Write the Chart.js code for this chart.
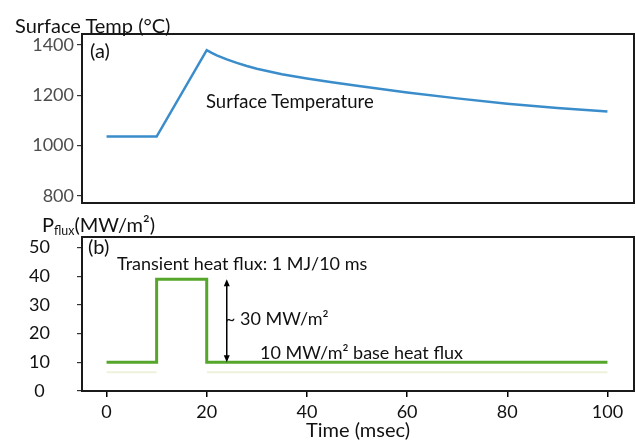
<!DOCTYPE html>
<html>
<head>
<meta charset="utf-8">
<script src="https://cdn.jsdelivr.net/npm/chart.js@4"></script>
<style>
  body { margin: 0; background: #fff; }
  #wrap { position: relative; width: 635px; height: 444px; font-family: Lato, sans-serif; color: #111; }
  canvas { position: absolute; left: 0; top: 0; }
  .lbl { position: absolute; white-space: nowrap; line-height: 1; transform: translateY(-50%); }
  sub { font-size: 0.62em; vertical-align: -0.25em; }
</style>
</head>
<body>
<div id="wrap">
  <canvas id="tempChart" width="635" height="444"></canvas>
  <canvas id="fluxChart" width="635" height="444"></canvas>
  <div class="lbl" style="left:15px; top:25px; font-size:20px;">Surface Temp (°C)</div>
  <div class="lbl" style="left:90px; top:50px; font-size:20px;">(a)</div>
  <div class="lbl" style="left:206px; top:101px; font-size:18.5px;">Surface Temperature</div>
  <div class="lbl" style="left:42px; top:226px; font-size:20px;">P<sub>flux</sub>(MW/m²)</div>
  <div class="lbl" style="left:88px; top:246px; font-size:20px;">(b)</div>
  <div class="lbl" style="left:117px; top:263px; font-size:18px;">Transient heat flux: 1 MJ/10 ms</div>
  <div class="lbl" style="left:225px; top:318px; font-size:18px;">~ 30 MW/m²</div>
  <div class="lbl" style="left:260px; top:352px; font-size:18px;">10 MW/m² base heat flux</div>
</div>
<script>
'use strict';

// time axis (ms)
const timeTicks = [0, 20, 40, 60, 80, 100];

// panel (a): surface temperature
const tempTime = [0, 10, 20, 21, 22, 24, 26, 28, 30, 35, 40, 45, 50, 60, 70, 80, 90, 100];
const surfaceTemp = [1036, 1036, 1380, 1369, 1359, 1343, 1329, 1317, 1306, 1284, 1267, 1252, 1238, 1211, 1188, 1167, 1150, 1136];
const tempTicks = [800, 1000, 1200, 1400];

// panel (b): heat flux (stepped)
const fluxTime = [0, 10, 20, 100];
const fluxValue = [10, 39, 10, 10];
// faint pale trace below the base flux
const ghostTime = [0, 10, 15, 20, 100];
const ghostValue = [6.5, 6.5, null, 6.5, 6.5];
const fluxTicks = [0, 10, 20, 30, 40, 50];

// double arrow marking the ~30 MW/m2 jump
const arrowAt = 24;
const arrowFrom = 39;
const arrowTo = 10;

const X_MIN = -4.9;
const X_MAX = 105.3;

function pairs(xs, ys) {
  return xs.map((x, i) => ({ x: x, y: ys[i] }));
}

const framePlugin = {
  id: 'frame',
  afterDatasetsDraw(chart) {
    const a = chart.chartArea;
    const ctx = chart.ctx;
    ctx.save();
    ctx.strokeStyle = '#1a1a1a';
    ctx.lineWidth = 2;
    ctx.strokeRect(a.left, a.top, a.right - a.left, a.bottom - a.top);
    ctx.restore();
  }
};

const arrowPlugin = {
  id: 'arrow',
  afterDatasetsDraw(chart) {
    const xs = chart.scales.x;
    const ys = chart.scales.y;
    const x = xs.getPixelForValue(arrowAt);
    const y1 = ys.getPixelForValue(arrowFrom);
    const y2 = ys.getPixelForValue(arrowTo);
    const ctx = chart.ctx;
    ctx.save();
    ctx.strokeStyle = '#000';
    ctx.fillStyle = '#000';
    ctx.lineWidth = 1.5;
    ctx.beginPath();
    ctx.moveTo(x, y1 + 4);
    ctx.lineTo(x, y2 - 4);
    ctx.stroke();
    ctx.beginPath();
    ctx.moveTo(x, y1);
    ctx.lineTo(x - 3, y1 + 7);
    ctx.lineTo(x + 3, y1 + 7);
    ctx.closePath();
    ctx.fill();
    ctx.beginPath();
    ctx.moveTo(x, y2);
    ctx.lineTo(x - 3, y2 - 7);
    ctx.lineTo(x + 3, y2 - 7);
    ctx.closePath();
    ctx.fill();
    ctx.restore();
  }
};

function setTicks(values) {
  return function (scale) {
    scale.ticks = values.map(v => ({ value: v }));
  };
}

function plain(value) {
  return String(value);
}

new Chart(document.getElementById('tempChart'), {
  type: 'line',
  data: {
    datasets: [{
      label: 'Surface Temperature',
      data: pairs(tempTime, surfaceTemp),
      borderColor: '#3a8dca',
      borderWidth: 2.5,
      pointRadius: 0,
      tension: 0,
      fill: false
    }]
  },
  options: {
    responsive: false,
    animation: false,
    layout: { padding: { top: 34, bottom: 241, left: 0, right: 1 } },
    plugins: { legend: { display: false }, tooltip: { enabled: false } },
    scales: {
      x: { type: 'linear', display: false, min: X_MIN, max: X_MAX },
      y: {
        type: 'linear',
        min: 772,
        max: 1444,
        afterBuildTicks: setTicks(tempTicks),
        afterFit(scale) { scale.width = 82; },
        border: { display: false },
        grid: { drawOnChartArea: false, tickLength: 5, tickColor: '#333', lineWidth: 1.2 },
        ticks: { color: '#4d4d4d', padding: 3, callback: plain, font: { family: 'Lato', size: 18 } }
      }
    }
  },
  plugins: [framePlugin]
});

new Chart(document.getElementById('fluxChart'), {
  type: 'line',
  data: {
    datasets: [{
      label: 'ghost',
      data: pairs(ghostTime, ghostValue),
      borderColor: '#eef2dc',
      borderWidth: 2,
      pointRadius: 0,
      spanGaps: false,
      fill: false
    }, {
      label: 'Heat flux',
      data: pairs(fluxTime, fluxValue),
      borderColor: '#55a62a',
      borderWidth: 3,
      pointRadius: 0,
      stepped: 'before',
      fill: false
    }]
  },
  options: {
    responsive: false,
    animation: false,
    layout: { padding: { top: 237, bottom: 0, left: 0, right: 1 } },
    plugins: { legend: { display: false }, tooltip: { enabled: false } },
    scales: {
      x: {
        type: 'linear',
        min: X_MIN,
        max: X_MAX,
        afterBuildTicks: setTicks(timeTicks),
        afterFit(scale) { scale.height = 53; },
        border: { display: false },
        grid: { drawOnChartArea: false, tickLength: 6, tickColor: '#000', lineWidth: 1.5 },
        ticks: { color: '#111', padding: 4, maxRotation: 0, callback: plain, font: { family: 'Lato', size: 18 } },
        title: {
          display: true,
          text: 'Time (msec)',
          color: '#111',
          padding: { top: 0, bottom: 1 },
          font: { family: 'Lato', size: 20 }
        }
      },
      y: {
        type: 'linear',
        min: 0,
        max: 53.7,
        afterBuildTicks: setTicks(fluxTicks),
        afterFit(scale) { scale.width = 82; },
        border: { display: false },
        grid: { drawOnChartArea: false, tickLength: 5, tickColor: '#333', lineWidth: 1.2 },
        ticks: { color: '#111', padding: 27, crossAlign: 'center', callback: plain, font: { family: 'Lato', size: 18 } }
      }
    }
  },
  plugins: [framePlugin, arrowPlugin]
});
</script>
</body>
</html>
